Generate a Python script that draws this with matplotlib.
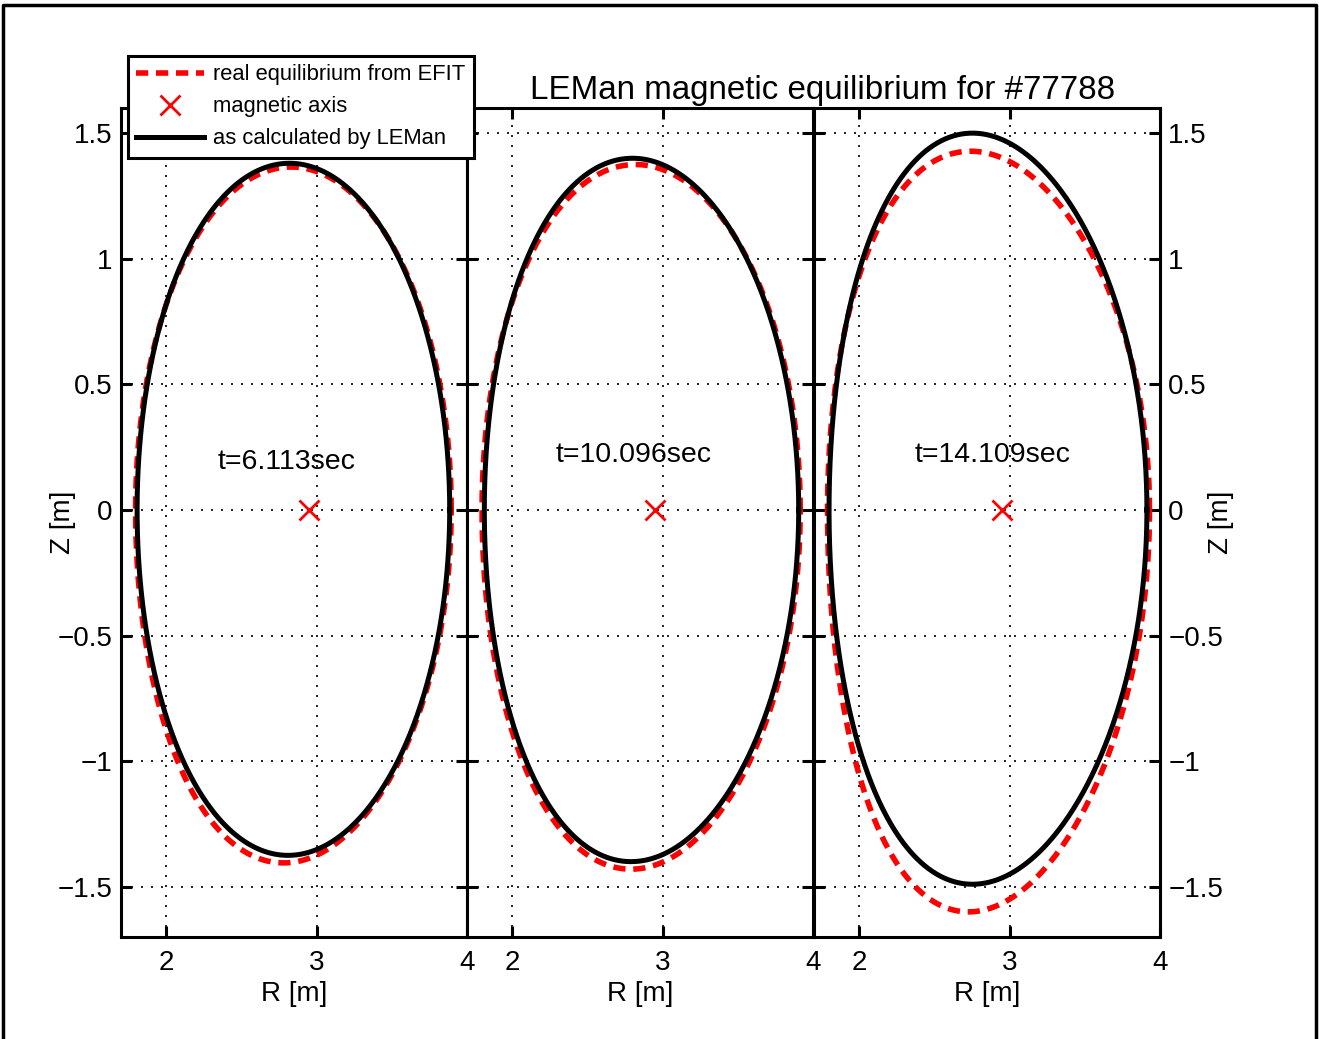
import numpy as np
import matplotlib
matplotlib.use("Agg")
import matplotlib.pyplot as plt
from matplotlib.lines import Line2D

plt.rcParams['font.family'] = ['Liberation Sans', 'DejaVu Sans']

# Shot times shown in each panel
times = ["t=6.113sec", "t=10.096sec", "t=14.109sec"]

# Plasma boundary shape per panel:
# (R_inner, R_outer, Z_top, R_at_top, Z_bottom, R_at_bottom)
efit_shape = [
    (1.797, 3.895, 1.365, 2.83, -1.405, 2.78),
    (1.800, 3.915, 1.375, 2.82, -1.430, 2.79),
    (1.790, 3.930, 1.428, 2.74, -1.600, 2.727),
]
leman_shape = [
    (1.807, 3.885, 1.380, 2.82, -1.375, 2.81),
    (1.815, 3.905, 1.400, 2.80, -1.400, 2.79),
    (1.800, 3.913, 1.500, 2.753, -1.490, 2.753),
]

# Magnetic axis (R, Z)
axis_R = [2.947, 2.953, 2.947]
axis_Z = [0.0, 0.0, 0.0]

# Position of the time labels (R, Z)
label_R = [2.80, 2.81, 2.89]
label_Z = [0.19, 0.22, 0.22]

xticks = [2, 3, 4]
yticks = [-1.5, -1, -0.5, 0, 0.5, 1, 1.5]


def boundary(shape, n=721):
    # Miller-type boundary with separate upper/lower elongation and triangularity
    r_in, r_out, z_top, r_top, z_bot, r_bot = shape
    r0 = 0.5 * (r_in + r_out)
    a = 0.5 * (r_out - r_in)
    th = np.linspace(0, 2 * np.pi, n)
    up = np.sin(th) >= 0
    kappa = np.where(up, z_top / a, -z_bot / a)
    delta = np.where(up, (r0 - r_top) / a, (r0 - r_bot) / a)
    R = r0 + a * np.cos(th + np.arcsin(delta) * np.sin(th))
    Z = kappa * a * np.sin(th)
    return R, Z


W, H = 1319, 1039
fig = plt.figure(figsize=(W / 100, H / 100), dpi=100)

ax_left = [121, 467, 814]
ax_w = 346
ax_top, ax_bot = 108, 937

axes = []
for i in range(3):
    ax = fig.add_axes([ax_left[i] / W, 1 - ax_bot / H, ax_w / W, (ax_bot - ax_top) / H])
    axes.append(ax)

    R, Z = boundary(efit_shape[i])
    ax.plot(R, Z, color='red', lw=4, dashes=(2.2, 1.4), label='real equilibrium from EFIT')
    ax.plot(axis_R[i], axis_Z[i], 'x', color='red', ms=14, mew=2, label='magnetic axis')
    R, Z = boundary(leman_shape[i])
    ax.plot(R, Z, color='black', lw=3.6, label='as calculated by LEMan')

    ax.text(label_R[i], label_Z[i], times[i], fontsize=20.5, ha='center', va='center')

    ax.set_xlim(1.7, 4)
    ax.set_ylim(-1.7, 1.6)
    ax.set_xticks(xticks)
    ax.set_xticklabels([str(t) for t in xticks])
    ax.set_yticks(yticks)
    ax.set_yticklabels(['\u22121.5', '\u22121', '\u22120.5', '0', '0.5', '1', '1.5'])
    ax.grid(True, color='black', ls=(0, (1.2, 4.8)), lw=1.2)
    ax.tick_params(direction='in', length=8, width=2.2, top=True, right=True,
                   labelsize=20, pad=6)
    ax.tick_params(axis='x', pad=9)
    for s in ax.spines.values():
        s.set_linewidth(2.2)
    ax.set_xlabel('R [m]', fontsize=20, labelpad=4)

    if i == 0:
        ax.set_ylabel('Z [m]', fontsize=20)
        ax.yaxis.set_label_coords(-0.130, 0.5)
    elif i == 1:
        ax.tick_params(labelleft=False)
    else:
        ax.tick_params(labelleft=False, labelright=True)
        ax.yaxis.set_label_position('right')
        ax.set_ylabel('Z [m]', fontsize=20, rotation=90)
        ax.yaxis.set_label_coords(1.139, 0.5)

fig.text(823 / W, 1 - 90 / H, 'LEMan magnetic equilibrium for #77788',
         fontsize=23.9, ha='center', va='center')

handles, labels = axes[0].get_legend_handles_labels()
leg = fig.legend(handles, labels, loc='upper left',
                 bbox_to_anchor=(128 / W, 1 - 56 / H), fontsize=15.8,
                 frameon=True, fancybox=False, framealpha=1, edgecolor='black',
                 handlelength=3.1, labelspacing=0.5, borderpad=0.38,
                 handletextpad=0.4, borderaxespad=0)
leg.get_frame().set_linewidth(2.2)

# outer frame around the figure
frame_x = [3 / W, 3 / W, 1316 / W, 1316 / W]
frame_y = [0, 1 - 5 / H, 1 - 5 / H, 0]
fig.add_artist(Line2D(frame_x, frame_y, color='black', lw=2.5, transform=fig.transFigure))

fig.savefig('out.png', dpi=100)
